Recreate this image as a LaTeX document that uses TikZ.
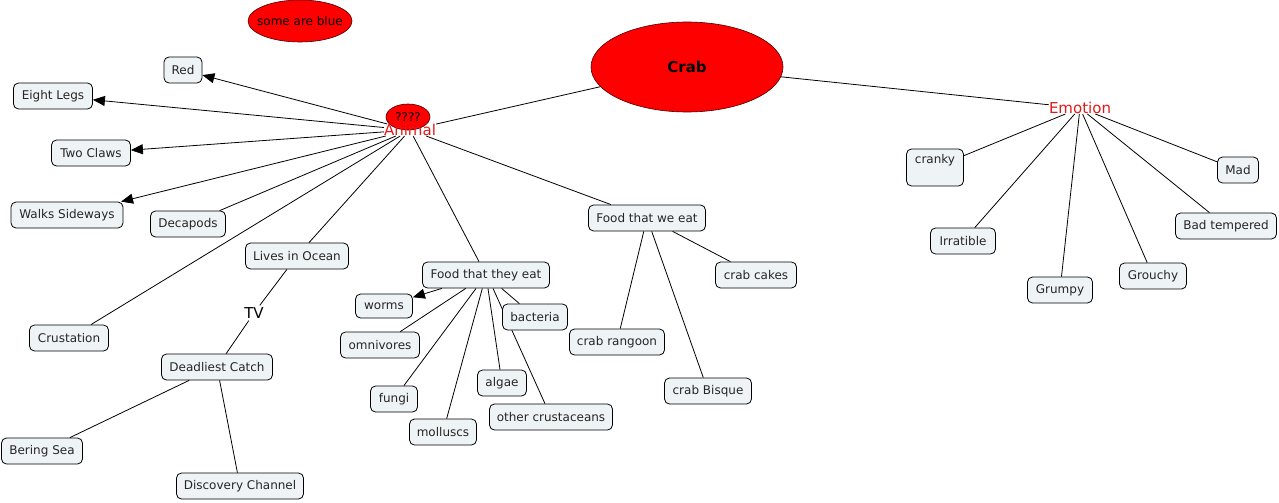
\documentclass[tikz,border=0pt]{standalone}
\usepackage{fontspec}
\setmainfont{DejaVu Sans}
\usetikzlibrary{shapes.geometric,arrows.meta}
\definecolor{boxfill}{RGB}{238,243,246}
\definecolor{concred}{RGB}{255,0,0}
\definecolor{labred}{RGB}{225,25,25}
\tikzset{
  box/.style={draw=black, line width=0.8pt, rounded corners=5pt, fill=boxfill,
    minimum height=26pt, inner xsep=4pt, inner ysep=3pt, font=\fontsize{12pt}{14pt}\selectfont, text=black!85},
  oval/.style={ellipse, draw=black!70!red, line width=0.6pt, fill=concred, inner sep=0pt},
  lab/.style={text=labred, inner sep=0pt, font=\fontsize{15pt}{17pt}\selectfont},
  link/.style={draw=black, line width=0.8pt},
  arr/.style={link, -{Triangle[length=12pt,width=10pt]}}
}
\begin{document}
\begin{tikzpicture}[x=1pt,y=-1pt]
\useasboundingbox (0,0) rectangle (1279,503);
% concepts
\node[oval, minimum width=104pt, minimum height=42pt, font=\fontsize{12pt}{14pt}\selectfont] (blue) at (300,21) {\makebox[0pt]{some are blue}};
\node[oval, minimum width=192pt, minimum height=90pt, font=\fontsize{15pt}{17pt}\selectfont\bfseries] (crab) at (687,67) {Crab};
\node[oval, minimum width=44pt, minimum height=26pt, font=\fontsize{12pt}{14pt}\selectfont] (q) at (408,117) {\makebox[0pt]{????}};
\node[lab] (animal) at (410,130) {Animal};
\node[lab] (emotion) at (1080,108) {Emotion};
\node[lab, text=black, inner sep=2pt] (tv) at (254,313) {TV};

\node[box, minimum width=38pt] (red) at (183,70) {Red};
\node[box, minimum width=79pt] (legs) at (53,96) {Eight Legs};
\node[box, minimum width=79pt] (claws) at (91,153) {Two Claws};
\node[box, minimum width=112pt] (walks) at (67,215) {Walks Sideways};
\node[box, minimum width=75pt] (deca) at (188,224) {Decapods};
\node[box, minimum width=103pt] (ocean) at (297,256) {Lives in Ocean};
\node[box, minimum width=79pt] (crust) at (69,338) {Crustation};
\node[box, minimum width=111pt] (catch) at (217,367) {Deadliest Catch};
\node[box, minimum width=81pt] (bering) at (42,451) {Bering Sea};
\node[box, minimum width=127pt] (disc) at (240,486) {Discovery Channel};

\node[box, minimum width=127pt] (fte) at (486,275) {Food that they eat};
\node[box, minimum width=57pt, minimum height=24pt] (worms) at (384,306) {worms};
\node[box, minimum width=79pt] (omni) at (380,345) {omnivores};
\node[box, minimum width=47pt] (fungi) at (394,399) {fungi};
\node[box, minimum width=67pt] (moll) at (443,432) {molluscs};
\node[box, minimum width=49pt] (algae) at (502,383) {algae};
\node[box, minimum width=123pt] (other) at (551,417) {other crustaceans};

\node[box, minimum width=117pt] (fwe) at (647,218) {Food that we eat};
\node[box, minimum width=81pt] (cakes) at (756,275) {crab cakes};
\node[box, minimum width=95pt] (rang) at (617,342) {crab rangoon};
\node[box, minimum width=87pt] (bisque) at (708,391) {crab Bisque};

\node[box, minimum width=57pt, minimum height=0pt, text height=11pt, text depth=20pt, anchor=base] (cranky) at (935,163) {cranky};
\node[box, minimum width=65pt] (irr) at (963,241) {Irratible};
\node[box, minimum width=65pt] (grumpy) at (1060,290) {Grumpy};
\node[box, minimum width=67pt] (grouchy) at (1153,276) {Grouchy};
\node[box, minimum width=101pt] (bad) at (1226,226) {Bad tempered};
\node[box, minimum width=41pt] (mad) at (1238,170) {Mad};

% connectors
\draw[link] (crab) -- (animal);
\draw[link] (crab) -- (emotion);
\draw[arr] (animal) -- (red);
\draw[arr] (animal) -- (legs);
\draw[arr] (animal) -- (claws);
\draw[arr] (animal) -- (walks);
\draw[link] (animal) -- (deca);
\draw[link] (animal) -- (crust);
\draw[link] (animal) -- (ocean);
\draw[link] (animal) -- (fte);
\draw[link] (animal) -- (fwe);
\draw[link] (ocean) -- (tv) -- (catch);
\draw[link] (catch) -- (bering);
\draw[link] (catch) -- (disc);
\draw[arr] (fte) -- (worms);
\draw[link] (fte) -- (omni);
\draw[link] (fte) -- (fungi);
\draw[link] (fte) -- (moll);
\draw[link] (fte) -- (algae);
\coordinate (ftex) at ([xshift=7pt]fte.south);
\draw[link] (ftex) -- (other);
\node[box, minimum width=65pt] (bact) at (535,317) {bacteria};
\draw[link] (fte) -- (bact);
\draw[link] (fwe) -- (cakes);
\draw[link] (fwe) -- (rang);
\draw[link] (fwe) -- (bisque);
\draw[link] (emotion) -- (cranky);
\draw[link] (emotion) -- (irr);
\draw[link] (emotion) -- (grumpy);
\draw[link] (emotion) -- (grouchy);
\draw[link] (emotion) -- (bad);
\draw[link] (emotion) -- (mad);
\end{tikzpicture}
\end{document}
